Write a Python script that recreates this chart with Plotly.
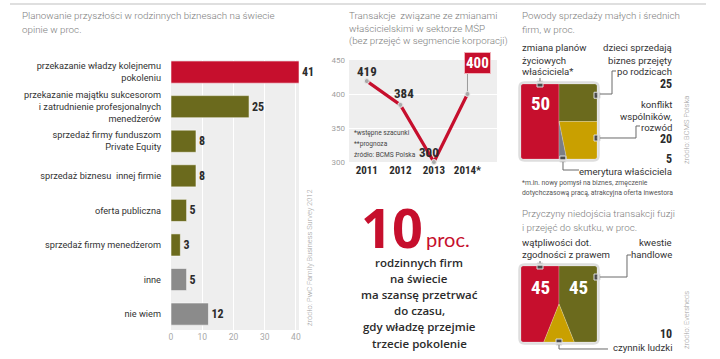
import plotly.graph_objects as go

W, H = 720, 359

# ---------------- data ----------------
bar_labels = [
    "przekazanie władzy kolejnemu<br>pokoleniu",
    "przekazanie majątku sukcesorom<br>i zatrudnienie profesjonalnych<br>menedżerów",
    "sprzedaż firmy funduszom<br>Private Equity",
    "sprzedaż biznesu  innej firmie",
    "oferta publiczna",
    "sprzedaż firmy menedżerom",
    "inne",
    "nie wiem",
]
bar_values = [41, 25, 8, 8, 5, 3, 5, 12]
bar_ticks = [0, 10, 20, 30, 40]

years = ["2011", "2012", "2013", "2014*"]
transactions = [419, 384, 300, 400]
line_ticks = [300, 350, 400, 450]

sale_labels = ["zmiana planów życiowych właściciela*", "dzieci sprzedają biznes przejęty po rodzicach",
               "konflikt wspólników, rozwód", "emerytura właściciela"]
sale_values = [50, 25, 20, 5]

fail_labels = ["wątpliwości dot. zgodności z prawem", "kwestie handlowe", "czynnik ludzki"]
fail_values = [45, 45, 10]

# ---------------- style ----------------
RED = "#c60f2d"
OLIVE = "#6b6a1d"
GOLD = "#c9a000"
GREY_BAR = "#8b8b8b"
GREY_TRI = "#7b7e86"
BG = "#eeeeee"
TXT = "#2b2b2b"
TITLE_C = "#7d7d7d"
NUMF = "Roboto Condensed, DejaVu Sans Condensed, Liberation Sans Narrow, Roboto"
BASEF = "Roboto"


def px(x):
    return x / W


def py(y):
    return 1 - y / H


bar_colors = [RED] + [OLIVE] * 5 + [GREY_BAR] * 2

fig = go.Figure()

# ---- horizontal bar chart ----
fig.add_trace(go.Bar(
    x=bar_values, y=bar_labels, orientation="h",
    marker=dict(color=bar_colors, line=dict(color="rgba(255,255,255,0.55)", width=1)),
    width=0.64,
    text=bar_values, textposition="outside", cliponaxis=False,
    textfont=dict(family=NUMF, size=12, color=TXT, weight="bold"),
    xaxis="x", yaxis="y", showlegend=False, hoverinfo="skip",
))

# ---- line chart ----
xi = list(range(len(years)))
fig.add_trace(go.Scatter(
    x=xi, y=transactions, mode="lines+markers",
    line=dict(color=RED, width=3.2),
    marker=dict(color="#a9a9a9", size=5, line=dict(color="#e8e8e8", width=1)),
    cliponaxis=False, xaxis="x2", yaxis="y2", showlegend=False, hoverinfo="skip",
))

# ---- mosaic 1: sale reasons ----
tot1 = sum(sale_values)
wr = sale_values[0] / tot1                       # red column width
rest = tot1 - sale_values[0]
oh = sale_values[1] / rest                      # olive share of right column height
ybrk = 1 - oh
g_base = wr + (1 - wr) * sale_values[3] / (sale_values[2] + sale_values[3])
polys1 = [
    ([0, 0, wr, wr, 0], [0, 1, 1, 0, 0], RED),
    ([wr, wr, 1, 1, wr], [ybrk, 1, 1, ybrk, ybrk], OLIVE),
    ([wr, 1, 1, g_base, wr], [ybrk, ybrk, 0, 0, ybrk], GOLD),
    ([wr, g_base, wr, wr], [ybrk, 0, 0, ybrk], GREY_TRI),
]
for xs, ys, c in polys1:
    fig.add_trace(go.Scatter(x=xs, y=ys, fill="toself", fillcolor=c, mode="lines",
                             line=dict(color="rgba(255,255,255,0.35)", width=0.6),
                             xaxis="x3", yaxis="y3", showlegend=False, hoverinfo="skip"))
m1x = [wr / 2, 1, 1, (wr + g_base) / 2]
m1y = [1, ybrk + oh * 0.7, ybrk * 0.56, 0]
fig.add_trace(go.Scatter(x=m1x, y=m1y, mode="markers", cliponaxis=False,
                         marker=dict(symbol="square", size=6, color="#4a4a4a",
                                     line=dict(color="#dddddd", width=1)),
                         xaxis="x3", yaxis="y3", showlegend=False, hoverinfo="skip"))

# ---- mosaic 2: failure reasons ----
tot2 = sum(fail_values)
split = fail_values[0] / (fail_values[0] + fail_values[1])
tri_h = 0.5
tri_b = 2 * (fail_values[2] / tot2) / tri_h
bl, br = split - tri_b / 2, split + tri_b / 2
polys2 = [
    ([0, 0, split, split, bl, 0], [0, 1, 1, tri_h, 0, 0], RED),
    ([split, 1, 1, br, split, split], [1, 1, 0, 0, tri_h, 1], OLIVE),
    ([bl, split, br, bl], [0, tri_h, 0, 0], GOLD),
]
for xs, ys, c in polys2:
    fig.add_trace(go.Scatter(x=xs, y=ys, fill="toself", fillcolor=c, mode="lines",
                             line=dict(color="rgba(255,255,255,0.35)", width=0.6),
                             xaxis="x4", yaxis="y4", showlegend=False, hoverinfo="skip"))
fig.add_trace(go.Scatter(x=[split / 2, 1, split], y=[1, 0.855, 0], mode="markers", cliponaxis=False,
                         marker=dict(symbol="square", size=6, color="#4a4a4a",
                                     line=dict(color="#dddddd", width=1)),
                         xaxis="x4", yaxis="y4", showlegend=False, hoverinfo="skip"))

# ---------------- axes ----------------
n = len(bar_labels)
fig.update_layout(
    width=W, height=H, margin=dict(l=0, r=0, t=0, b=0, autoexpand=False),
    paper_bgcolor="white", plot_bgcolor=BG, hovermode=False, dragmode=False,
    xaxis=dict(domain=[px(171), px(299)], range=[0, 41], tickvals=bar_ticks, automargin=False,
               showgrid=True, gridcolor="white", gridwidth=1, zeroline=False,
               tickfont=dict(family=BASEF, size=8.5, color="#a8a8a8"), ticks="",
               ticklabelstandoff=0, anchor="y", fixedrange=True),
    yaxis=dict(domain=[py(330), py(60)], type="category", categoryorder="array", automargin=False,
               categoryarray=bar_labels, range=[n - 0.54, -0.35], showgrid=False,
               tickfont=dict(family=BASEF, size=9.2, color="#333333"), ticks="",
               ticklabelstandoff=9, anchor="x", fixedrange=True),
    xaxis2=dict(domain=[px(349), px(497)], range=[-0.53, 3.88], tickvals=xi, ticktext=years,
                showgrid=False, zeroline=False, ticks="", automargin=False,
                tickfont=dict(family=NUMF, size=11, color=TXT, weight="bold"),
                ticklabelstandoff=0, anchor="y2", fixedrange=True),
    yaxis2=dict(domain=[py(162), py(60)], range=[300, 450], tickvals=line_ticks, automargin=False,
                showgrid=True, gridcolor="white", gridwidth=1, zeroline=False, ticks="",
                tickfont=dict(family=BASEF, size=8, color="#a0a0a0"),
                ticklabelstandoff=3, anchor="x2", fixedrange=True),
    xaxis3=dict(domain=[px(521), px(597)], range=[0, 1], visible=False, anchor="y3",
                automargin=False, fixedrange=True),
    yaxis3=dict(domain=[py(159), py(84)], range=[0, 1], visible=False, anchor="x3",
                automargin=False, fixedrange=True),
    xaxis4=dict(domain=[px(521), px(597)], range=[0, 1], visible=False, anchor="y4",
                automargin=False, fixedrange=True),
    yaxis4=dict(domain=[py(342), py(266)], range=[0, 1], visible=False, anchor="x4",
                automargin=False, fixedrange=True),
)

ann = []


def T(x, y, text, size=10, color=TXT, xa="left", family=BASEF, weight="normal", ya="middle", angle=0):
    ann.append(dict(x=px(x), y=py(y), xref="paper", yref="paper", text=text, showarrow=False,
                    xanchor=xa, yanchor=ya, textangle=angle,
                    font=dict(family=family, size=size, color=color, weight=weight)))


TS = 9.8
# titles
T(20, 15, "Planowanie przyszłości w rodzinnych biznesach na świecie", TS, TITLE_C, weight=300)
T(20, 29, "opinie w proc.", TS, TITLE_C, weight=300)
T(347, 15, "Transakcje  związane ze zmianami", TS, TITLE_C, weight=300)
T(347, 28, "właścicielskimi w sektorze MŚP", TS, TITLE_C, weight=300)
T(347, 41, "(bez przejęć w segmencie korporacji)", TS, TITLE_C, weight=300)
T(520, 15, "Powody sprzedaży małych i średnich", TS, TITLE_C, weight=300)
T(520, 29, "firm, w proc.", TS, TITLE_C, weight=300)
T(520, 213, "Przyczyny niedojścia transakcji fuzji", TS, TITLE_C, weight=300)
T(520, 228, "i przejęć do skutku, w proc.", TS, TITLE_C, weight=300)

# sources (vertical)
T(309, 258, "źródło: PwC Family Business Survey 2012", 7.5, "#a0a0a0", xa="center", weight=300, angle=-90)
T(686, 130, "źródło: BCMS Polska", 7.5, "#a0a0a0", xa="center", weight=300, angle=-90)
T(686, 320, "źródło: Eversheds", 7.5, "#a0a0a0", xa="center", weight=300, angle=-90)

# line chart value labels
LS = 13
ann.append(dict(x=0, y=transactions[0], xref="x2", yref="y2", text=str(transactions[0]), showarrow=False,
                yshift=10, font=dict(family=NUMF, size=LS, color=TXT, weight="bold")))
ann.append(dict(x=1, y=transactions[1], xref="x2", yref="y2", text=str(transactions[1]), showarrow=False,
                yshift=11, xshift=4, font=dict(family=NUMF, size=LS, color=TXT, weight="bold")))
ann.append(dict(x=2, y=transactions[2], xref="x2", yref="y2", text=str(transactions[2]), showarrow=False,
                yshift=10, xshift=-5, font=dict(family=NUMF, size=LS, color=TXT, weight="bold")))
ann.append(dict(x=3, y=transactions[3], xref="x2", yref="y2", text=str(transactions[3]), showarrow=False,
                yshift=31, xshift=10, bgcolor=RED, borderpad=1, bordercolor="#f0b0b8", borderwidth=1,
                font=dict(family=NUMF, size=15, color="white", weight="bold")))
T(352, 133, "*wstępne szacunki", 6.6, "#444444")
T(352, 144, "**prognoza", 6.6, "#444444")
T(352, 155, "źródło: BCMS Polska", 6.6, "#444444")

# big number
T(392, 227, "10", 54, RED, xa="center", family="Open Sans", weight="bold")
T(424, 239, "proc.", 20, RED, family="Lato")
for i, line in enumerate(["rodzinnych firm", "na świecie", "ma szansę przetrwać", "do czasu,",
                          "gdy władzę przejmie", "trzecie pokolenie"]):
    T(419, 262 + 16.2 * i, line, 11.5, TXT, xa="center", family="Open Sans", weight=600)

# mosaic 1 labels
LB = 9.6
LC = "#333333"
for i, s in enumerate(["zmiana planów", "życiowych", "właściciela*"]):
    T(520, 48 + 12 * i, s, LB, LC)
for i, s in enumerate(["dzieci sprzedają", "biznes przejęty", "po rodzicach"]):
    T(674, 48 + 12 * i, s, LB, LC, xa="right")
T(674, 84, str(sale_values[1]), 12, TXT, xa="right", family=NUMF, weight="bold")
for i, s in enumerate(["konflikt", "wspólników,", "rozwód"]):
    T(674, 104 + 12 * i, s, LB, LC, xa="right")
T(674, 139, str(sale_values[2]), 12, TXT, xa="right", family=NUMF, weight="bold")
T(674, 159, str(sale_values[3]), 12, TXT, xa="right", family=NUMF, weight="bold")
T(674, 171, "emerytura właściciela", LB, LC, xa="right")
ann.append(dict(x=wr / 2, y=0.74, xref="x3", yref="y3", text=str(sale_values[0]), showarrow=False,
                font=dict(family=NUMF, size=19, color="white", weight="bold")))
T(520, 183, "*m.in. nowy pomysł na biznes, zmęczenie", 6.8, "#555555")
T(520, 193, "dotychczasową pracą, atrakcyjna oferta inwestora", 6.8, "#555555")

# mosaic 2 labels
T(520, 242, "wątpliwości dot.", LB, LC)
T(520, 254, "zgodności z prawem", LB, LC)
T(674, 242, "kwestie", LB, LC, xa="right")
T(674, 254, "handlowe", LB, LC, xa="right")
T(674, 334, str(fail_values[2]), 12, TXT, xa="right", family=NUMF, weight="bold")
T(674, 347, "czynnik ludzki", LB, LC, xa="right")
ann.append(dict(x=split / 2, y=0.72, xref="x4", yref="y4", text=str(fail_values[0]), showarrow=False,
                font=dict(family=NUMF, size=19, color="white", weight="bold")))
ann.append(dict(x=(1 + split) / 2, y=0.72, xref="x4", yref="y4", text=str(fail_values[1]), showarrow=False,
                font=dict(family=NUMF, size=19, color="white", weight="bold")))

fig.update_layout(annotations=ann)

# ---------------- decorative shapes ----------------
shapes = []
shapes.append(dict(type="line", xref="paper", yref="paper", x0=px(10), x1=px(706), y0=py(4), y1=py(4),
                   line=dict(color="#d4d4d4", width=1.5)))
# leader from 2014 point to its label box
shapes.append(dict(type="line", xref="x2", yref="y2", x0=3, x1=3, y0=transactions[3], y1=435,
                   line=dict(color="#9a9a9a", width=1), layer="below"))


def path(points):
    return "M " + " L ".join(f"{px(a):.5f},{py(b):.5f}" for a, b in points)


for pts in [
    [(596, 94), (612, 94), (612, 71), (616, 71)],
    [(596, 138), (636, 138), (636, 126), (640, 126)],
    [(563, 160), (563, 170), (579, 170)],
    [(540, 83), (540, 78)],
    [(596, 277), (627, 277), (627, 255), (631, 255)],
    [(559, 342), (559, 349), (608, 349)],
    [(540, 266), (540, 261)],
]:
    shapes.append(dict(type="path", xref="paper", yref="paper", path=path(pts),
                       line=dict(color="#6a6a6a", width=1)))


def rounded(x0, y0, x1, y1, r):
    X0, X1 = px(x0), px(x1)
    Y0, Y1 = py(y0), py(y1)
    rx, ry = r / W, r / H
    return (f"M {X0 + rx},{Y0} L {X1 - rx},{Y0} Q {X1},{Y0} {X1},{Y0 - ry} "
            f"L {X1},{Y1 + ry} Q {X1},{Y1} {X1 - rx},{Y1} L {X0 + rx},{Y1} "
            f"Q {X0},{Y1} {X0},{Y1 + ry} L {X0},{Y0 - ry} Q {X0},{Y0} {X0 + rx},{Y0} Z")


shapes.append(dict(type="path", xref="paper", yref="paper", path=rounded(519.5, 82.5, 598.5, 160.5, 5),
                   line=dict(color="#dedede", width=2.5)))
shapes.append(dict(type="path", xref="paper", yref="paper", path=rounded(519.5, 264.5, 598.5, 343.5, 5),
                   line=dict(color="#dedede", width=2.5)))
fig.update_layout(shapes=shapes)

fig.write_html("out.html", config={"displayModeBar": False, "staticPlot": True},
               post_script="document.body.style.margin='0';document.body.style.padding='0';"
                           "document.body.style.overflow='hidden';")
